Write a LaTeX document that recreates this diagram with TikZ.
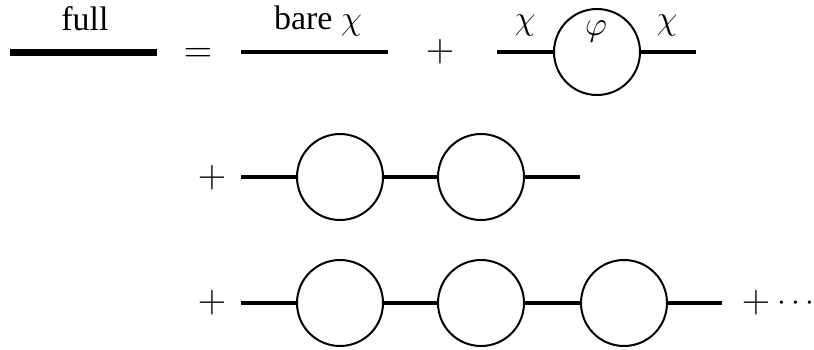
\documentclass[tikz,border=0pt]{standalone}
\usepackage{fontspec}
\setmainfont{Liberation Serif}
\begin{document}
\begin{tikzpicture}[x=1pt,y=-1pt,
  prop/.style={line width=4pt},
  fullprop/.style={line width=7pt},
  loopc/.style={circle,draw,line width=2pt,minimum size=86pt,inner sep=0pt},
  lbl/.style={font=\fontsize{20.74}{25}\selectfont,scale=1.64,anchor=base,inner sep=0pt},
  op/.style={font=\fontsize{20.74}{25}\selectfont,scale=1.9,inner sep=0pt}
]
\useasboundingbox (0,0) rectangle (814,349);
% row 1
\coordinate (fa) at (10,52);
\coordinate (fb) at (157,52);
\draw[fullprop] (fa) -- (fb);
\node[lbl] (tfull) at (85,30) {full};
\node[op] (eq) at (198,55) {$=$};
\coordinate (ba) at (241,52);
\coordinate (bb) at (388,52);
\draw[prop] (ba) -- (bb);
\node[lbl] (tbare) at (318,29) {bare $\chi$};
\node[op] (p1) at (440,52) {$+$};
\coordinate (sa) at (497,52);
\node[loopc] (s1) at (597,52) {};
\coordinate (sb) at (696,52);
\draw[prop] (sa) -- (s1.west);
\draw[prop] (s1.east) -- (sb);
\node[lbl] (chil) at (525,29) {$\chi$};
\node[lbl] (phi) at (596,35) {$\varphi$};
\node[lbl] (chir) at (667,29) {$\chi$};
% row 2
\node[op] (p2) at (212,178) {$+$};
\coordinate (ua) at (241,177);
\node[loopc] (u1) at (340,177) {};
\node[loopc] (u2) at (481,177) {};
\coordinate (ub) at (580,177);
\draw[prop] (ua) -- (u1.west);
\draw[prop] (u1.east) -- (u2.west);
\draw[prop] (u2.east) -- (ub);
% row 3
\node[op] (p3) at (212,303) {$+$};
\coordinate (va) at (241,303);
\node[loopc] (v1) at (340,303) {};
\node[loopc] (v2) at (481,303) {};
\node[loopc] (v3) at (624,303) {};
\coordinate (vb) at (722,303);
\draw[prop] (va) -- (v1.west);
\draw[prop] (v1.east) -- (v2.west);
\draw[prop] (v2.east) -- (v3.west);
\draw[prop] (v3.east) -- (vb);
\node[op] (p4) at (756,303) {$+$};
\node[op,scale=0.8] (dots) at (796,303) {$\cdots$};
\end{tikzpicture}
\end{document}
